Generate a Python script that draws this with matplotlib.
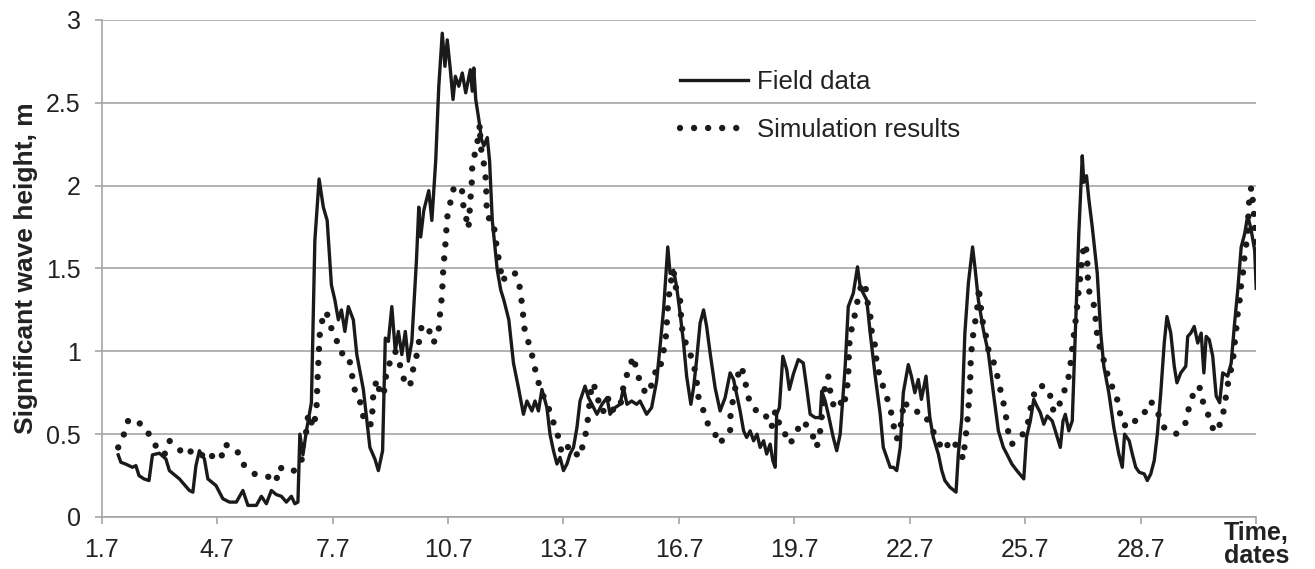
import matplotlib
matplotlib.use("Agg")
import matplotlib.pyplot as plt

plt.rcParams['font.family'] = ['Liberation Sans', 'DejaVu Sans']

# field measurements (day of month, significant wave height in m)
field_day = [
    2.13, 2.20, 2.32, 2.50, 2.59, 2.67, 2.80, 2.93, 3.02, 3.20, 3.37, 3.46, 3.72, 3.98,
    4.07, 4.15, 4.24, 4.37, 4.46, 4.67, 4.85, 5.02, 5.20, 5.37, 5.50, 5.72, 5.85, 5.98,
    6.11, 6.24, 6.37, 6.50, 6.63, 6.72, 6.80, 6.85, 6.93, 7.02, 7.15, 7.24, 7.35, 7.46,
    7.56, 7.67, 7.76, 7.85, 7.93, 8.02, 8.11, 8.24, 8.33, 8.50, 8.67, 8.80, 8.89, 9.00,
    9.07, 9.15, 9.24, 9.33, 9.41, 9.50, 9.59, 9.67, 9.76, 9.88, 9.94, 9.99, 10.07, 10.20,
    10.28, 10.38, 10.46, 10.55, 10.62, 10.68, 10.76, 10.83, 10.89, 10.98, 11.07, 11.16,
    11.28, 11.33, 11.37, 11.42, 11.50, 11.57, 11.63, 11.72, 11.78, 11.85, 11.98, 12.07,
    12.15, 12.28, 12.40, 12.53, 12.66, 12.75, 12.88, 12.96, 13.05, 13.14, 13.27, 13.35,
    13.44, 13.53, 13.61, 13.70, 13.79, 13.87, 13.96, 14.05, 14.13, 14.26, 14.35, 14.44,
    14.57, 14.70, 14.83, 14.91, 15.04, 15.17, 15.26, 15.35, 15.47, 15.60, 15.69, 15.86,
    15.99, 16.12, 16.21, 16.30, 16.41, 16.47, 16.56, 16.64, 16.73, 16.82, 16.90, 17.01,
    17.08, 17.16, 17.25, 17.34, 17.42, 17.51, 17.64, 17.77, 17.90, 18.03, 18.12, 18.20,
    18.29, 18.38, 18.46, 18.55, 18.64, 18.73, 18.81, 18.90, 18.98, 19.07, 19.14, 19.20,
    19.24, 19.31, 19.40, 19.50, 19.57, 19.67, 19.80, 19.93, 20.02, 20.11, 20.24, 20.37,
    20.41, 20.50, 20.58, 20.71, 20.80, 20.89, 21.02, 21.10, 21.23, 21.34, 21.41, 21.49,
    21.58, 21.67, 21.80, 21.93, 22.01, 22.10, 22.19, 22.27, 22.36, 22.45, 22.53, 22.66,
    22.74, 22.83, 22.92, 23.00, 23.12, 23.22, 23.31, 23.44, 23.53, 23.61, 23.74, 23.90,
    23.96, 24.05, 24.13, 24.22, 24.33, 24.40, 24.48, 24.61, 24.74, 24.87, 25.00, 25.13,
    25.22, 25.35, 25.48, 25.66, 25.73, 25.83, 25.92, 26.00, 26.09, 26.18, 26.27, 26.40,
    26.48, 26.61, 26.68, 26.74, 26.83, 26.92, 27.00, 27.09, 27.18, 27.22, 27.29, 27.35,
    27.44, 27.57, 27.66, 27.74, 27.87, 28.00, 28.13, 28.22, 28.28, 28.40, 28.48, 28.57,
    28.66, 28.79, 28.87, 28.96, 29.05, 29.13, 29.22, 29.31, 29.38, 29.48, 29.57, 29.64,
    29.74, 29.87, 29.92, 30.00, 30.09, 30.18, 30.27, 30.34, 30.40, 30.48, 30.57, 30.66,
    30.75, 30.83, 30.96, 31.05, 31.13, 31.22, 31.31, 31.40, 31.48, 31.57, 31.66, 31.70,
]
field_hs = [
    0.375, 0.33, 0.32, 0.30, 0.31, 0.25, 0.23, 0.22, 0.375, 0.385, 0.35, 0.28, 0.23, 0.16,
    0.15, 0.31, 0.40, 0.35, 0.23, 0.19, 0.11, 0.09, 0.09, 0.16, 0.07, 0.07, 0.125, 0.08,
    0.16, 0.135, 0.125, 0.09, 0.125, 0.08, 0.09, 0.50, 0.375, 0.52, 0.69, 1.67, 2.04, 1.87,
    1.79, 1.40, 1.31, 1.19, 1.25, 1.12, 1.27, 1.19, 0.98, 0.77, 0.42, 0.35, 0.28, 0.40,
    1.08, 1.06, 1.27, 1.00, 1.12, 0.98, 1.12, 0.94, 1.06, 1.55, 1.87, 1.69, 1.85, 1.97,
    1.79, 2.15, 2.60, 2.92, 2.72, 2.88, 2.70, 2.52, 2.66, 2.60, 2.68, 2.56,
    2.70, 2.57, 2.71, 2.52, 2.40, 2.28, 2.24, 2.29, 2.15, 1.79, 1.49, 1.37,
    1.31, 1.19, 0.93, 0.78, 0.62, 0.70, 0.64, 0.70, 0.64, 0.77, 0.66, 0.50,
    0.40, 0.32, 0.36, 0.28, 0.32, 0.38, 0.42, 0.54, 0.70, 0.79, 0.72, 0.68,
    0.62, 0.68, 0.72, 0.62, 0.66, 0.68, 0.78, 0.68, 0.70, 0.68, 0.70, 0.62,
    0.66, 0.82, 1.03, 1.25, 1.63, 1.47, 1.49, 1.39, 1.23, 1.05, 0.85, 0.68,
    0.78, 0.95, 1.17, 1.25, 1.15, 0.99, 0.78, 0.64, 0.72, 0.87, 0.83, 0.74,
    0.64, 0.52, 0.48, 0.52, 0.46, 0.50, 0.42, 0.46, 0.38, 0.44, 0.34, 0.30,
    0.62, 0.66, 0.97, 0.89, 0.77, 0.86, 0.95, 0.93, 0.78, 0.62, 0.60, 0.60,
    0.76, 0.70, 0.62, 0.48, 0.40, 0.50, 0.91, 1.27, 1.35, 1.51, 1.39, 1.35,
    1.31, 1.11, 0.85, 0.62, 0.42, 0.36, 0.30, 0.30, 0.28, 0.42, 0.75, 0.92,
    0.85, 0.75, 0.83, 0.71, 0.85, 0.60, 0.48, 0.38, 0.28, 0.22, 0.18, 0.15,
    0.38, 0.60, 1.11, 1.41, 1.63, 1.49, 1.31, 1.13, 0.99, 0.75, 0.52, 0.42,
    0.38, 0.32, 0.28, 0.23, 0.48, 0.58, 0.71, 0.67, 0.63, 0.56, 0.61, 0.58,
    0.52, 0.42, 0.58, 0.62, 0.52, 0.58, 1.11, 1.71, 2.18, 2.02, 2.06, 1.92,
    1.75, 1.47, 1.11, 0.91, 0.75, 0.54, 0.38, 0.30, 0.50, 0.46, 0.38, 0.30,
    0.27, 0.26, 0.22, 0.26, 0.34, 0.50, 0.75, 1.05, 1.21, 1.11, 0.91, 0.81,
    0.87, 0.91, 1.09, 1.11, 1.15, 1.05, 1.11, 0.87, 1.09, 1.07, 0.97, 0.73,
    0.69, 0.87, 0.85, 0.93, 1.15, 1.37, 1.63, 1.71, 1.82, 1.73, 1.61, 1.38,
]

# model output
sim_day = [
    2.13, 2.28, 2.40, 2.59, 2.85, 3.02, 3.15, 3.33, 3.46, 3.67, 3.85, 3.98, 4.24, 4.46,
    4.63, 4.80, 4.89, 5.07, 5.20, 5.37, 5.67, 5.98, 6.24, 6.28, 6.46, 6.63, 6.76, 6.89,
    6.93, 7.02, 7.07, 7.20, 7.28, 7.31, 7.35, 7.37, 7.46, 7.54, 7.63, 7.80, 7.91, 8.11,
    8.20, 8.24, 8.37, 8.46, 8.54, 8.72, 8.74, 8.76, 8.85, 8.93, 9.02, 9.07, 9.11, 9.24,
    9.33, 9.41, 9.50, 9.59, 9.72, 9.80, 9.89, 10.02, 10.19, 10.32, 10.45, 10.49, 10.54,
    10.56, 10.58, 10.62, 10.65, 10.67, 10.75, 10.80, 10.97, 11.06, 11.08, 11.14, 11.23,
    11.26, 11.29, 11.32, 11.33, 11.45, 11.53, 11.54, 11.58, 11.66, 11.69, 11.70, 11.71,
    11.88, 11.92, 11.98, 12.05, 12.12, 12.23, 12.44, 12.56, 12.62, 12.66, 12.70, 12.83,
    12.92, 13.01, 13.14, 13.31, 13.44, 13.57, 13.66, 13.79, 13.92, 14.09, 14.22, 14.31,
    14.35, 14.44, 14.52, 14.61, 14.65, 14.78, 14.87, 15.00, 15.17, 15.26, 15.39, 15.52,
    15.60, 15.73, 15.86, 16.04, 16.12, 16.21, 16.30, 16.38, 16.39, 16.43, 16.47, 16.56,
    16.60, 16.73, 16.77, 16.86, 16.95, 17.08, 17.16, 17.21, 17.34, 17.47, 17.64, 17.77,
    17.90, 18.03, 18.04, 18.12, 18.20, 18.29, 18.38, 18.46, 18.55, 18.72, 18.89, 18.98,
    19.11, 19.15, 19.24, 19.33, 19.46, 19.59, 19.76, 19.93, 20.15, 20.28, 20.37, 20.50,
    20.58, 20.63, 20.71, 20.84, 20.97, 21.06, 21.10, 21.11, 21.13, 21.19, 21.28, 21.36,
    21.45, 21.54, 21.58, 21.67, 21.71, 21.80, 21.84, 21.93, 22.06, 22.19, 22.27, 22.36,
    22.45, 22.55, 22.66, 22.74, 23.05, 23.22, 23.40, 23.57, 23.79, 23.96, 24.09, 24.13,
    24.18, 24.22, 24.25, 24.27, 24.28, 24.31, 24.35, 24.42, 24.48, 24.49, 24.53, 24.61,
    24.68, 24.74, 24.92, 25.00, 25.09, 25.18, 25.24, 25.35, 25.53, 25.74, 25.87, 26.00,
    26.22, 26.35, 26.44, 26.57, 26.70, 26.83, 26.89, 26.93, 26.98, 27.03, 27.07, 27.12,
    27.18, 27.22, 27.27, 27.31, 27.32, 27.35, 27.48, 27.53, 27.57, 27.66, 27.79, 27.87,
    28.05, 28.13, 28.22, 28.44, 28.61, 28.79, 28.87, 29.00, 29.18, 29.31, 29.44, 29.61,
    29.87, 29.96, 30.09, 30.22, 30.31, 30.48, 30.61, 30.79, 30.87, 30.94, 31.00, 31.09,
    31.13, 31.18, 31.22, 31.27, 31.31, 31.38, 31.40, 31.48, 31.49, 31.51, 31.57, 31.60,
    31.64, 31.66, 31.70,
]
sim_hs = [
    0.42, 0.50, 0.59, 0.58, 0.54, 0.45, 0.42, 0.375, 0.46, 0.42, 0.375, 0.40, 0.36, 0.40,
    0.35, 0.35, 0.44, 0.42, 0.41, 0.32, 0.26, 0.25, 0.21, 0.30, 0.29, 0.27, 0.29, 0.33,
    0.43, 0.52, 0.625, 0.54, 0.64, 0.83, 1.03, 1.11, 1.22, 1.24, 1.16, 1.07, 0.99, 0.98,
    0.875, 0.78, 0.74, 0.65, 0.56, 0.56, 0.67, 0.75, 0.83, 0.75, 0.73, 0.81, 0.90, 0.95,
    1.00, 0.94, 0.89, 0.79, 0.80, 0.90, 0.98, 1.16, 1.14, 1.05, 1.11, 1.22, 1.33,
    1.42, 1.51, 1.61, 1.70, 1.80, 1.88, 1.97, 2.00, 1.99, 1.90, 1.84, 1.74,
    1.84, 1.94, 2.03, 2.13, 2.24, 2.37, 2.26, 2.19, 2.10, 2.01, 1.90, 1.81,
    1.79, 1.70, 1.61, 1.51, 1.42, 1.47, 1.47, 1.39, 1.29, 1.20, 1.11, 1.03,
    0.94, 0.84, 0.75, 0.66, 0.57, 0.48, 0.38, 0.42, 0.43, 0.36, 0.44, 0.54,
    0.63, 0.81, 0.78, 0.70, 0.64, 0.64, 0.72, 0.64, 0.66, 0.79, 0.89, 0.97,
    0.88, 0.79, 0.74, 0.82, 0.91, 0.90, 1.00, 1.12, 1.21, 1.31, 1.40, 1.49,
    1.40, 1.31, 1.15, 1.06, 1.01, 0.93, 0.82, 0.72, 0.64, 0.55, 0.50, 0.44,
    0.50, 0.52, 0.61, 0.73, 0.82, 0.91, 0.87, 0.77, 0.68, 0.64, 0.64, 0.60,
    0.54, 0.62, 0.64, 0.53, 0.50, 0.44, 0.52, 0.58, 0.51, 0.42, 0.52, 0.80,
    0.85, 0.76, 0.68, 0.72, 0.66, 0.76, 0.85, 0.95, 1.05, 1.14, 1.23, 1.33,
    1.41, 1.41, 1.32, 1.22, 1.12, 1.03, 0.92, 0.84, 0.75, 0.66, 0.56, 0.47,
    0.53, 0.70, 0.66, 0.64, 0.63, 0.56, 0.47, 0.40, 0.47, 0.41, 0.35, 0.45,
    0.54, 0.65, 0.75, 0.84, 0.93, 1.03, 1.11, 1.21, 1.31, 1.39, 1.29, 1.15,
    1.09, 1.01, 0.91, 0.82, 0.73, 0.64, 0.53, 0.44, 0.47, 0.53, 0.70, 0.79,
    0.79, 0.73, 0.63, 0.67, 0.75, 0.85, 0.95, 1.04, 1.13, 1.23, 1.33, 1.43,
    1.57, 1.63, 1.65, 1.55, 1.46, 1.37, 1.28, 1.19, 1.09, 1.00, 0.91, 0.82,
    0.75, 0.66, 0.56, 0.54, 0.60, 0.62, 0.69, 0.69, 0.61, 0.54, 0.52, 0.50,
    0.57, 0.67, 0.76, 0.79, 0.70, 0.60, 0.51, 0.57, 0.66, 0.77, 0.85, 0.93,
    1.03, 1.13, 1.23, 1.31, 1.41, 1.51, 1.60, 1.69, 1.78, 1.89, 1.99, 1.94,
    1.83, 1.75, 1.65,
]

xticks = [1.7, 4.7, 7.7, 10.7, 13.7, 16.7, 19.7, 22.7, 25.7, 28.7, 31.7]
xtick_labels = ['1.7', '4.7', '7.7', '10.7', '13.7', '16.7', '19.7', '22.7', '25.7', '28.7', '']
yticks = [0, 0.5, 1, 1.5, 2, 2.5, 3]
ytick_labels = ['0', '0.5', '1', '1.5', '2', '2.5', '3']

grey = '#a6a6a6'
ink = '#1a1a1a'

fig = plt.figure(figsize=(13.15, 5.69), dpi=100)
ax = fig.add_axes([0.0773, 0.0914, 0.878, 0.8735])

ax.plot(sim_day, sim_hs, color=ink, lw=4.6, linestyle=(0, (0.001, 2.2)),
        dash_capstyle='round', label='Simulation results', zorder=3)
ax.plot(field_day, field_hs, color=ink, lw=2.4, label='Field data', zorder=4)

ax.set_xlim(1.7, 31.7)
ax.set_ylim(0, 3)
ax.set_xticks(xticks)
ax.set_xticklabels(xtick_labels)
ax.set_yticks(yticks)
ax.set_yticklabels(ytick_labels)
ax.tick_params(axis='both', direction='out', length=5, width=1.2, color=grey,
               labelsize=18, labelcolor='#222222', pad=10)
ax.grid(axis='y', color=grey, lw=1.2)
ax.set_axisbelow(True)
for side in ['top', 'right']:
    ax.spines[side].set_visible(False)
for side in ['left', 'bottom']:
    ax.spines[side].set_color(grey)
    ax.spines[side].set_linewidth(1.2)

ax.set_ylabel('Significant wave height, m', fontsize=19, fontweight='bold',
              color='#222222', labelpad=6)
ax.annotate('Time,\ndates', xy=(31.7, 0), xycoords=('data', 'axes fraction'),
            xytext=(0, -3), textcoords='offset points', ha='center', va='top',
            fontsize=18, fontweight='bold', color='#222222', linespacing=0.92,
            annotation_clip=False)

handles, labels = ax.get_legend_handles_labels()
ax.legend(handles[::-1], labels[::-1], loc='upper left', bbox_to_anchor=(0.501, 0.90),
          frameon=False, fontsize=18.5, handlelength=2.65, handletextpad=0.35,
          labelspacing=0.95, borderpad=0, borderaxespad=0, labelcolor='#222222')

fig.savefig('out.png', dpi=100)
